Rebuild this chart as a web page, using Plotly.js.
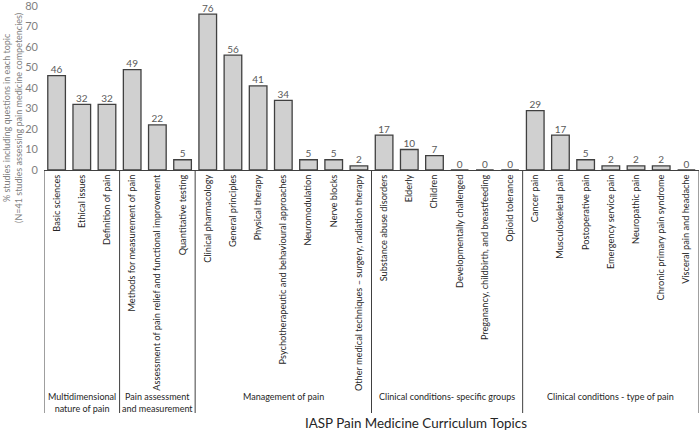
<!DOCTYPE html>
<html><head><meta charset="utf-8">
<script src="https://cdn.plot.ly/plotly-3.0.1.min.js"></script>
<style>html,body{margin:0;padding:0;background:#fff}#chart{width:700px;height:431px}</style>
</head><body><div id="chart"></div>
<script>
const categories = [
  "Basic sciences","Ethical issues","Definition of pain",
  "Methods for measurement of pain","Assessment of pain relief and functional improvement","Quantitative testing",
  "Clinical pharmacology","General principles","Physical therapy","Psychotherapeutic and behavioural approaches","Neuromodulation","Nerve blocks","Other medical techniques \u2013 surgery, radiation therapy",
  "Substance abuse disorders","Elderly","Children","Developmentally challenged","Preganancy, childbirth, and breastfeeding","Opioid tolerance",
  "Cancer pain","Musculoskeletal pain","Postoperative pain","Emergency service pain","Neuropathic pain","Chronic primary pain syndrome","Visceral pain and headache"
];
const values = [46,32,32, 49,22,5, 76,56,41,34,5,5,2, 17,10,7,0,0,0, 29,17,5,2,2,2,0];
const groupNames = ["Multidimensional<br>nature of pain","Pain assessment<br>and measurement","Management of pain","Clinical conditions- specific groups","Clinical conditions - type of pain"];
const groupSizes = [3,3,7,6,7];
const yTicks = [0,10,20,30,40,50,60,70,80];
const yTitle = "% studies including questions in each topic<br>(N=41 studies assessing pain medicine competencies)";
const xTitle = "IASP Pain Medicine Curriculum Topics";

const FONT = "Lato, 'Open Sans', sans-serif";
const idx = categories.map((c,i)=>i);

const bars = {
  type:'bar', x: idx, y: values,
  marker:{color:'#d0d0d0', line:{color:'#404040', width:1.3}},
  width:0.7, hoverinfo:'none'
};
const labels = {
  type:'scatter', mode:'text', x: idx, y: values,
  text: values.map(String), textposition:'top center',
  textfont:{family:FONT, size:10, color:'#595959'}, hoverinfo:'none', cliponaxis:false
};

const PT = 6, PB = 170, PH = PB - PT, PL = 44, PW = 655;
const py = v => (PB - v)/PH;
const px = v => (v - PL)/PW;

const shapes = [];
const annotations = [];
let start = 0;
const bounds = [-0.5];
groupSizes.forEach((n,g)=>{
  const s = start - 0.5, e = start + n - 0.5;
  bounds.push(e);
  annotations.push({
    xref:'x', yref:'paper', x:(s+e)/2, y:py(389), yanchor:'top', xanchor:'center',
    text: groupNames[g], showarrow:false,
    font:{family:FONT, size:9, color:'#262626'}
  });
  start += n;
});
bounds.forEach(b=>{
  shapes.push({type:'line', xref:'x', yref:'paper', x0:b, x1:b, y0:0, y1:py(413),
    line:{color:'#404040', width:1}});
});
annotations.push({
  xref:'paper', yref:'paper', x:px(416), y:py(423), xanchor:'center', yanchor:'middle',
  text:xTitle, showarrow:false,
  font:{family:FONT, size:13.4, color:'#262626'}
});
annotations.push({
  xref:'paper', yref:'paper', x:px(13), y:py(118), xanchor:'center', yanchor:'middle',
  text:yTitle, showarrow:false, textangle:-90,
  font:{family:FONT, size:9, color:'#7f7f7f'}
});

const layout = {
  width:700, height:431,
  margin:{l:PL, r:1, t:PT, b:431-PB},
  paper_bgcolor:'#fff', plot_bgcolor:'#fff',
  showlegend:false,
  xaxis:{
    range:[-0.5, categories.length-0.5],
    tickmode:'array', tickvals:idx, ticktext:categories,
    tickangle:-90, ticks:'', showgrid:false, zeroline:false,
    showline:true, linecolor:'#404040', linewidth:1,
    tickfont:{family:FONT, size:9.2, color:'#262626'}, automargin:false
  },
  yaxis:{
    range:[0,80], tickmode:'array', tickvals:yTicks,
    showgrid:false, zeroline:false, showline:false, ticks:'',
    tickfont:{family:FONT, size:11, color:'#7f7f7f'}, automargin:false,
    ticklabelstandoff:5, ticklabeloverflow:'allow'
  },
  shapes:shapes, annotations:annotations
};
Plotly.newPlot('chart',[bars,labels],layout,{staticPlot:true, displayModeBar:false});
</script></body></html>
